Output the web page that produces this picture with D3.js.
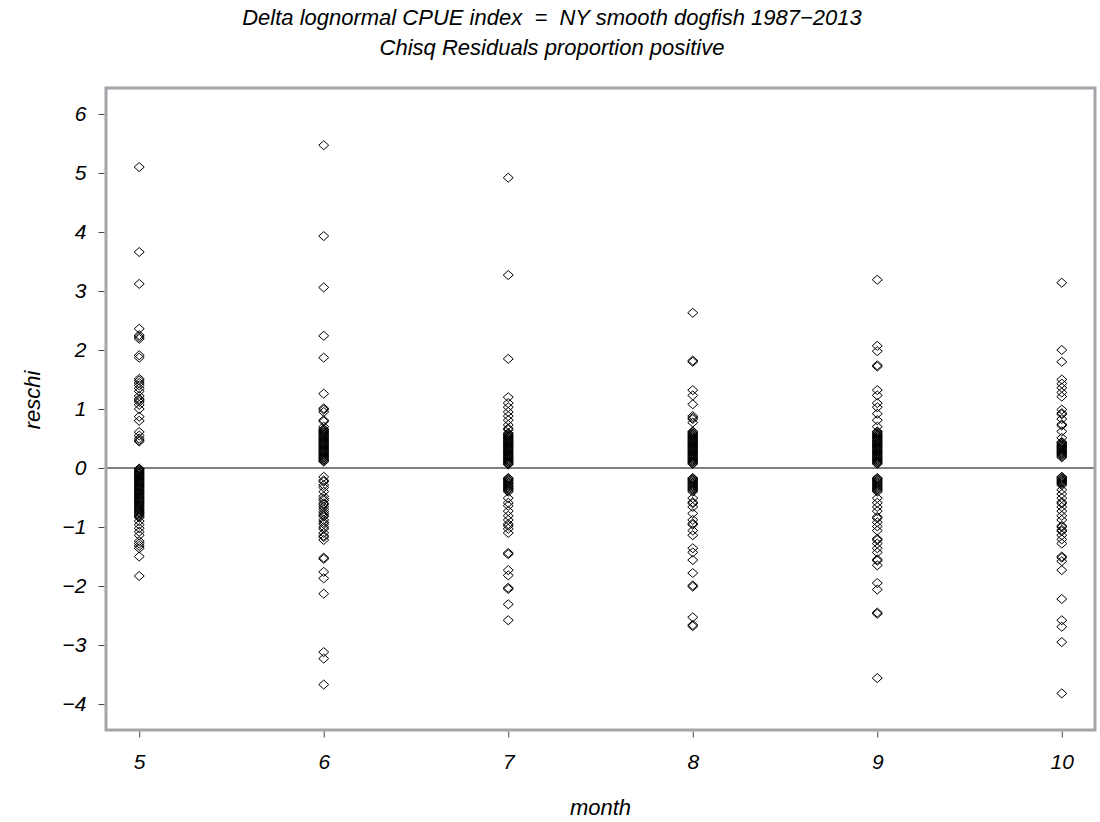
<!DOCTYPE html>
<html>
<head>
<meta charset="utf-8">
<script src="https://cdn.jsdelivr.net/npm/d3@7"></script>
<style>
  body { margin: 0; background: #fff; }
  text { font-family: "Liberation Sans", Arial, sans-serif; font-style: italic; }
</style>
</head>
<body>
<div id="scatter"></div>
<script>
// months on the x axis
let months = [5, 6, 7, 8, 9, 10];
let yTicks = [-4, -3, -2, -1, 0, 1, 2, 3, 4, 5, 6];

// chi-square residuals, one list per month
let resMay = [5.10, 3.66, 3.12, 2.36, 2.25, 2.22, 2.19, 1.91, 1.87, 1.51, 1.48, 1.44, 1.40, 1.35, 1.30, 1.22, 1.17, 1.15, 1.12, 1.07, 1.00, 0.87, 0.80, 0.61, 0.55, 0.50, 0.47, 0.45,
  -0.01, -0.02, -0.03, -0.05, -0.06, -0.08, -0.09, -0.10, -0.12, -0.13, -0.15, -0.16, -0.18, -0.19, -0.21, -0.22, -0.24, -0.25, -0.27, -0.28,
  -0.30, -0.31, -0.33, -0.34, -0.36, -0.38, -0.39, -0.41, -0.42, -0.44, -0.45, -0.47, -0.49, -0.50, -0.52, -0.53, -0.55, -0.57, -0.58,
  -0.60, -0.61, -0.63, -0.65, -0.66, -0.68, -0.70, -0.71, -0.73, -0.75, -0.76, -0.78, -0.80, -0.82, -0.84,
  -0.90, -0.96, -1.02, -1.08, -1.14, -1.24, -1.28, -1.32, -1.36, -1.50, -1.83];
let resJun = [5.47, 3.93, 3.06, 2.24, 1.87, 1.26, 1.01, 0.99, 0.95, 0.81, 0.79, 0.70,
  0.66, 0.65, 0.63, 0.62, 0.60, 0.59, 0.57, 0.56, 0.54, 0.53, 0.51, 0.50, 0.48, 0.47, 0.45, 0.44, 0.42, 0.41, 0.39, 0.38,
  0.36, 0.35, 0.33, 0.32, 0.30, 0.29, 0.27, 0.26, 0.24, 0.23, 0.21, 0.20, 0.18, 0.17, 0.15, 0.14, 0.12, 0.11,
  -0.15, -0.21, -0.23, -0.29, -0.33, -0.40, -0.48, -0.52, -0.55, -0.60, -0.62, -0.66, -0.70, -0.74, -0.77, -0.80, -0.82, -0.88, -0.92, -0.95, -1.00, -1.03, -1.10, -1.15, -1.17, -1.22,
  -1.52, -1.54, -1.76, -1.87, -2.13, -3.12, -3.23, -3.67];
let resJul = [4.92, 3.27, 1.85, 1.20, 1.10, 1.03, 0.95, 0.88, 0.81, 0.73, 0.67, 0.65,
  0.59, 0.58, 0.56, 0.55, 0.53, 0.52, 0.50, 0.49, 0.47, 0.46, 0.44, 0.43, 0.41, 0.40, 0.38, 0.37, 0.35, 0.34,
  0.32, 0.31, 0.29, 0.28, 0.26, 0.25, 0.23, 0.22, 0.20, 0.19, 0.17, 0.16, 0.14, 0.13, 0.11, 0.10, 0.08, 0.07, 0.06,
  -0.17, -0.18, -0.20, -0.21, -0.23, -0.25, -0.26, -0.28, -0.30, -0.31, -0.33, -0.35, -0.36, -0.38, -0.40,
  -0.51, -0.59, -0.64, -0.73, -0.81, -0.88, -0.95, -0.98, -1.03, -1.10,
  -1.44, -1.46, -1.73, -1.82, -2.03, -2.05, -2.31, -2.58];
let resAug = [2.63, 1.80, 1.82, 1.32, 1.23, 1.08, 0.88, 0.83, 0.85, 0.77,
  0.62, 0.61, 0.59, 0.58, 0.56, 0.55, 0.53, 0.52, 0.50, 0.49, 0.47, 0.46, 0.44, 0.43, 0.41, 0.40, 0.38, 0.37, 0.35,
  0.34, 0.32, 0.31, 0.29, 0.28, 0.26, 0.25, 0.23, 0.22, 0.20, 0.19, 0.17, 0.16, 0.14, 0.13, 0.11, 0.10, 0.08, 0.07,
  -0.17, -0.18, -0.20, -0.21, -0.23, -0.25, -0.26, -0.28, -0.30, -0.31, -0.33, -0.35, -0.36, -0.38, -0.40,
  -0.51, -0.58, -0.60, -0.66, -0.77, -0.88, -0.94, -0.96, -1.06, -1.14,
  -1.36, -1.43, -1.56, -1.78, -1.99, -2.01, -2.53, -2.66, -2.68];
let resSep = [3.19, 2.07, 1.98, 1.72, 1.74, 1.32, 1.23, 1.10, 1.03, 0.92, 0.81, 0.70,
  0.62, 0.61, 0.59, 0.58, 0.56, 0.55, 0.53, 0.52, 0.50, 0.49, 0.47, 0.46, 0.44, 0.43, 0.41, 0.40, 0.38, 0.37, 0.35,
  0.34, 0.32, 0.31, 0.29, 0.28, 0.26, 0.25, 0.23, 0.22, 0.20, 0.19, 0.17, 0.16, 0.14, 0.13, 0.11, 0.10, 0.08, 0.07,
  -0.17, -0.18, -0.20, -0.21, -0.23, -0.25, -0.26, -0.28, -0.30, -0.31, -0.33, -0.35, -0.36, -0.38, -0.40,
  -0.51, -0.59, -0.66, -0.73, -0.83, -0.85, -0.92, -0.99, -1.06,
  -1.20, -1.22, -1.28, -1.36, -1.43, -1.55, -1.57, -1.65, -1.95, -2.06, -2.45, -2.47, -3.56];
let resOct = [3.14, 2.00, 1.80, 1.50, 1.43, 1.36, 1.28, 1.21, 0.99, 0.93, 0.91, 0.83, 0.74, 0.72, 0.62, 0.51,
  0.44, 0.43, 0.41, 0.40, 0.38, 0.37, 0.35, 0.34, 0.32, 0.31, 0.29, 0.28, 0.26, 0.25, 0.23, 0.22, 0.20, 0.18,
  -0.15, -0.16, -0.18, -0.19, -0.21, -0.22, -0.24, -0.25, -0.27, -0.29,
  -0.37, -0.44, -0.51, -0.58, -0.60, -0.66, -0.73, -0.81, -0.88, -0.98, -1.00, -1.05, -1.07, -1.14, -1.21, -1.28,
  -1.50, -1.52, -1.58, -1.73, -2.22, -2.58, -2.69, -2.95, -3.82];

let titleLines = ["Delta lognormal CPUE index  =  NY smooth dogfish 1987\u22122013", "Chisq Residuals proportion positive"];

function loadGraph() {

  let plotWidth = 1100;
  let plotHeight = 822;

  let margin = { top: 88, right: 5, bottom: 92, left: 106 };
  let width = plotWidth - margin.left - margin.right;
  let height = plotHeight - margin.top - margin.bottom;

  let svg = d3.select("#scatter")
    .append("svg")
    .attr("width", plotWidth)
    .attr("height", plotHeight);

  let graph = svg.append("g")
    .attr("transform", `translate(${margin.left}, ${margin.top})`);

  // flatten the month lists into points
  let byMonth = [resMay, resJun, resJul, resAug, resSep, resOct];
  let plotData = [];
  months.forEach(function(m, i) {
    byMonth[i].forEach(function(r) {
      plotData.push({ month: m, reschi: r });
    });
  });

  //Create scales
  let xScale = d3.scaleLinear()
    .domain([4.82, 10.18])
    .range([0, width]);

  let yScale = d3.scaleLinear()
    .domain([-4.44, 6.44])
    .range([height, 0]);

  //Create axis
  let xAxis = d3.axisBottom(xScale).tickValues(months).tickFormat(d3.format("d"))
    .tickSize(6).tickSizeOuter(0).tickPadding(17);
  let yAxis = d3.axisLeft(yScale).tickValues(yTicks).tickFormat(d3.format("d"))
    .tickSize(6).tickSizeOuter(0).tickPadding(12);

  let xg = graph.append("g")
    .attr("transform", `translate(0, ${height + 1.5})`)
    .call(xAxis);

  let yg = graph.append("g")
    .attr("transform", "translate(-1.5, 0)")
    .call(yAxis);

  [xg, yg].forEach(function(g) {
    g.select(".domain").remove();
    g.selectAll(".tick line").attr("stroke", "#444");
    g.selectAll(".tick text")
      .attr("font-size", "21px")
      .attr("fill", "#000")
      .style("font-family", "'Liberation Sans', Arial, sans-serif")
      .style("font-style", "italic");
  });

  // zero reference line
  graph.append("line")
    .attr("x1", 0)
    .attr("x2", width)
    .attr("y1", yScale(0))
    .attr("y2", yScale(0))
    .attr("stroke", "#000")
    .attr("stroke-width", 1);

  //Display points as open diamonds
  let diamond = "M0,-4.5L5,0L0,4.5L-5,0Z";
  graph.append("g")
    .selectAll("path")
    .data(plotData)
    .enter()
    .append("path")
    .attr("d", diamond)
    .attr("transform", d => `translate(${xScale(d.month)}, ${yScale(d.reschi)})`)
    .attr("fill", "none")
    .attr("stroke", "#000")
    .attr("stroke-width", 1);

  // grey frame around the plot
  graph.append("rect")
    .attr("x", 0)
    .attr("y", 0)
    .attr("width", width)
    .attr("height", height)
    .attr("fill", "none")
    .attr("stroke", "#a2a6aa")
    .attr("stroke-width", 3);

  // titles
  svg.selectAll(".title")
    .data(titleLines)
    .enter()
    .append("text")
    .attr("class", "title")
    .attr("x", 552)
    .attr("y", (d, i) => 25 + i * 30)
    .attr("text-anchor", "middle")
    .attr("font-size", "22px")
    .style("white-space", "pre")
    .text(d => d);

  // axis labels
  svg.append("text")
    .attr("x", margin.left + xScale(7.5))
    .attr("y", 815)
    .attr("text-anchor", "middle")
    .attr("font-size", "22px")
    .text("month");

  svg.append("text")
    .attr("transform", "translate(40, 400) rotate(-90)")
    .attr("text-anchor", "middle")
    .attr("font-size", "22px")
    .text("reschi");
}

loadGraph();
</script>
</body>
</html>
